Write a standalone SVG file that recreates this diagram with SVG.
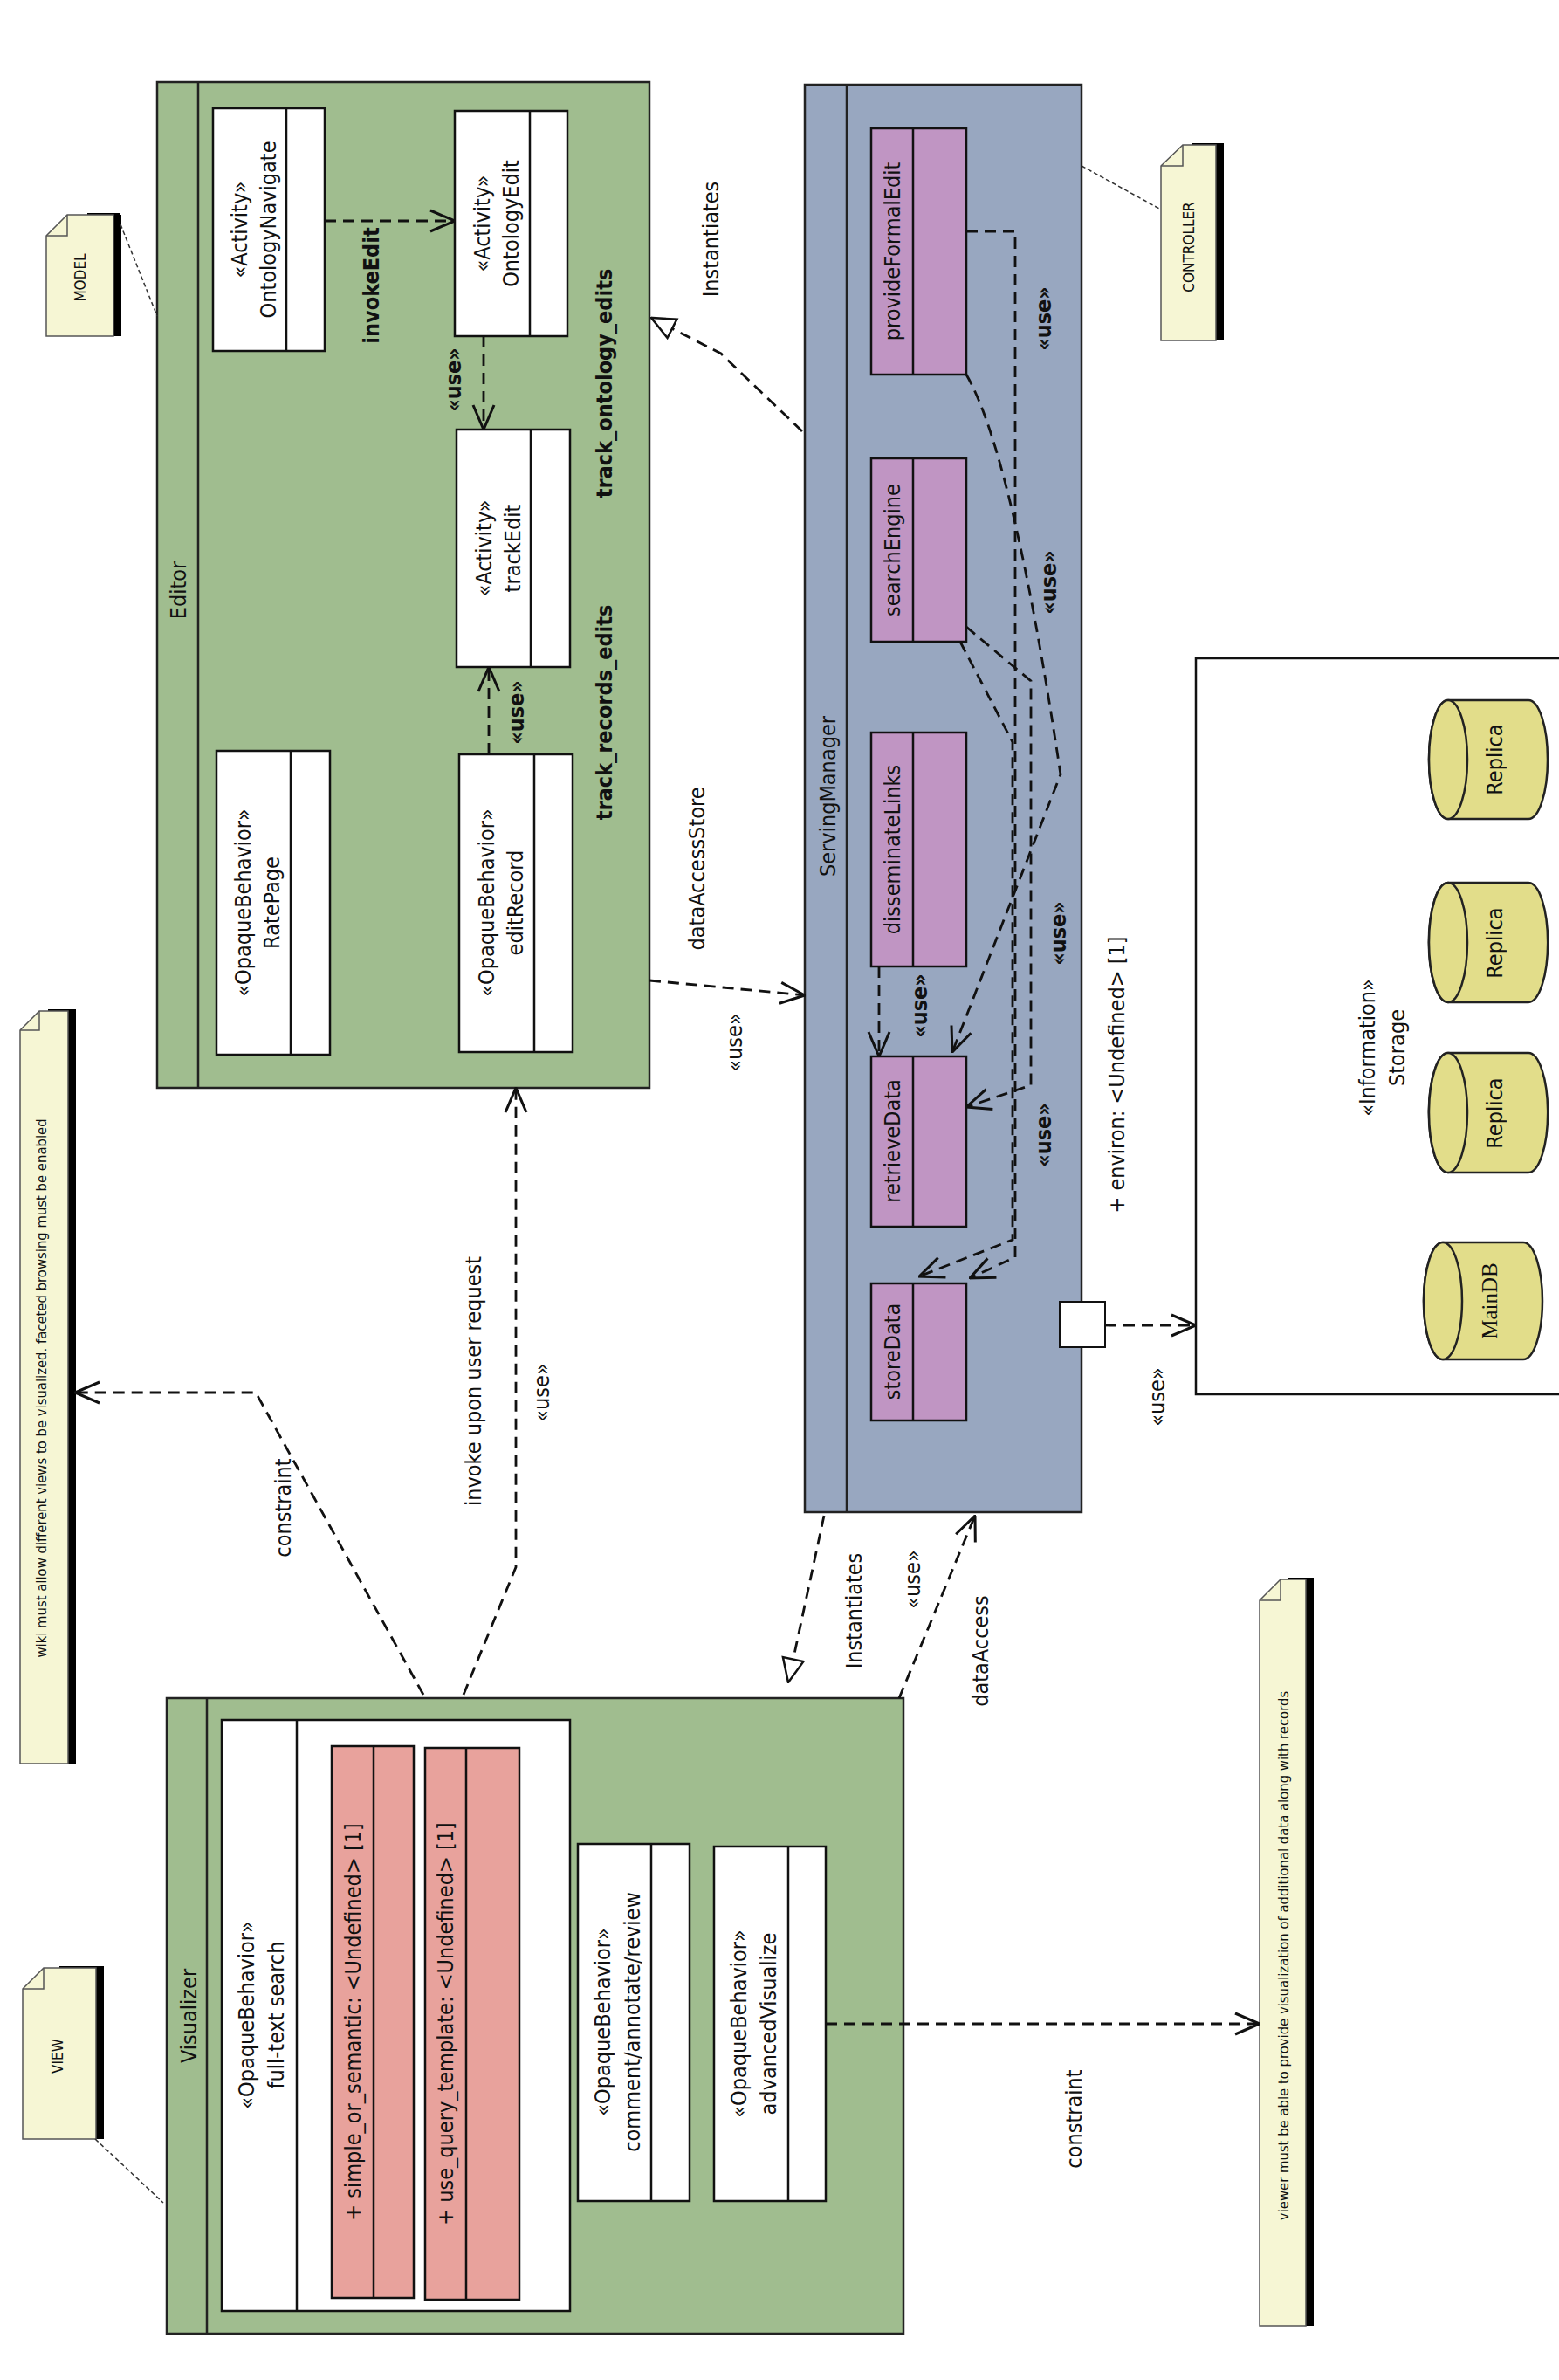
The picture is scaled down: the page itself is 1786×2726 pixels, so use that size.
<svg xmlns="http://www.w3.org/2000/svg" width="1786" height="2726" viewBox="0 0 1786 2726">
<style>
text{font-family:"DejaVu Sans Condensed","DejaVu Sans",sans-serif;font-stretch:condensed;font-size:25px;fill:#111;text-anchor:middle;dominant-baseline:central}
.b{font-weight:bold}
.s{font-size:16.5px}
.m{font-size:17px}
.frame{stroke:#222;stroke-width:2.5}
.box{fill:#fff;stroke:#111;stroke-width:2.5}
.op{fill:#c095c3;stroke:#111;stroke-width:2.5}
.at{fill:#e8a29c;stroke:#111;stroke-width:2.5}
.dash{fill:none;stroke:#111;stroke-width:2.8;stroke-dasharray:13 8}
.ndash{fill:none;stroke:#333;stroke-width:1.5;stroke-dasharray:5 3}
.note{fill:#f6f6d4;stroke:#555;stroke-width:1.5}
.cyl{fill:#e2dd8a;stroke:#222;stroke-width:2.5}
</style>
<defs>
<marker id="a" viewBox="0 0 30 30" refX="29" refY="15" markerWidth="30" markerHeight="30" markerUnits="userSpaceOnUse" orient="auto"><path d="M1,3 L29,15 L1,27" fill="none" stroke="#111" stroke-width="3"/></marker>
<marker id="t" viewBox="0 0 30 30" refX="29" refY="15" markerWidth="30" markerHeight="30" markerUnits="userSpaceOnUse" orient="auto"><path d="M2,3 L29,15 L2,27 Z" fill="#fff" stroke="#111" stroke-width="2.5"/></marker>
</defs>
<rect width="1786" height="2726" fill="#fff"/>

<g id="editor">
<rect x="180" y="94" width="564" height="1152" fill="#a0bd8f" class="frame"/>
<line x1="227" y1="94" x2="227" y2="1246" class="frame"/>
<text transform="translate(204,676) rotate(-90)">Editor</text>
</g>
<g id="ontologyNavigate">
<rect x="244" y="124" width="128" height="278" class="box"/><line x1="328" y1="124" x2="328" y2="402" stroke="#111" stroke-width="2.5"/>
<text transform="translate(274,263) rotate(-90)">«Activity»</text><text transform="translate(307,263) rotate(-90)">OntologyNavigate</text>
</g>
<g id="ontologyEdit">
<rect x="521" y="127" width="129" height="258" class="box"/><line x1="607" y1="127" x2="607" y2="385" stroke="#111" stroke-width="2.5"/>
<text transform="translate(552,256) rotate(-90)">«Activity»</text><text transform="translate(585,256) rotate(-90)">OntologyEdit</text>
</g>
<g id="trackEdit">
<rect x="523" y="492" width="130" height="272" class="box"/><line x1="608" y1="492" x2="608" y2="764" stroke="#111" stroke-width="2.5"/>
<text transform="translate(554,628) rotate(-90)">«Activity»</text><text transform="translate(587,628) rotate(-90)">trackEdit</text>
</g>
<g id="ratePage">
<rect x="248" y="860" width="130" height="348" class="box"/><line x1="333" y1="860" x2="333" y2="1208" stroke="#111" stroke-width="2.5"/>
<text transform="translate(278,1034) rotate(-90)">«OpaqueBehavior»</text><text transform="translate(311,1034) rotate(-90)">RatePage</text>
</g>
<g id="editRecord">
<rect x="526" y="864" width="130" height="341" class="box"/><line x1="612" y1="864" x2="612" y2="1205" stroke="#111" stroke-width="2.5"/>
<text transform="translate(557,1034) rotate(-90)">«OpaqueBehavior»</text><text transform="translate(590,1034) rotate(-90)">editRecord</text>
</g>

<g id="servingManager">
<rect x="922" y="97" width="317" height="1635" fill="#98a7c0" class="frame"/>
<line x1="970" y1="97" x2="970" y2="1732" class="frame"/>
<text transform="translate(948,912) rotate(-90)">ServingManager</text>
</g>
<g id="provideFormalEdit"><rect x="998" y="147" width="109" height="282" class="op"/><line x1="1046" y1="147" x2="1046" y2="429" stroke="#111" stroke-width="2.5"/><text transform="translate(1022,288) rotate(-90)">provideFormalEdit</text></g>
<g id="searchEngine"><rect x="998" y="525" width="109" height="210" class="op"/><line x1="1046" y1="525" x2="1046" y2="735" stroke="#111" stroke-width="2.5"/><text transform="translate(1022,630) rotate(-90)">searchEngine</text></g>
<g id="disseminateLinks"><rect x="998" y="839" width="109" height="268" class="op"/><line x1="1046" y1="839" x2="1046" y2="1107" stroke="#111" stroke-width="2.5"/><text transform="translate(1022,973) rotate(-90)">disseminateLinks</text></g>
<g id="retrieveData"><rect x="998" y="1210" width="109" height="195" class="op"/><line x1="1046" y1="1210" x2="1046" y2="1405" stroke="#111" stroke-width="2.5"/><text transform="translate(1022,1307) rotate(-90)">retrieveData</text></g>
<g id="storeData"><rect x="998" y="1470" width="109" height="157" class="op"/><line x1="1046" y1="1470" x2="1046" y2="1627" stroke="#111" stroke-width="2.5"/><text transform="translate(1022,1548) rotate(-90)">storeData</text></g>
<g id="port"><rect x="1214" y="1491" width="52" height="52" fill="#fff" stroke="#111" stroke-width="2"/></g>

<g id="storage">
<path d="M1786,754 H1370 V1597 H1786" fill="#fff" stroke="#111" stroke-width="2.5"/>
<text transform="translate(1566,1200) rotate(-90)">«Information»</text>
<text transform="translate(1600,1200) rotate(-90)">Storage</text>
</g>
<g id="replica1"><path d="M1659,802 H1751 A22,68 0 0 1 1751,938 H1659 A22,68 0 0 1 1659,802 Z" class="cyl"/><ellipse cx="1659" cy="870" rx="22" ry="68" class="cyl"/><text transform="translate(1712,870) rotate(-90)">Replica</text></g>
<g id="replica2"><path d="M1659,1011 H1751 A22,68 0 0 1 1751,1148 H1659 A22,68 0 0 1 1659,1011 Z" class="cyl"/><ellipse cx="1659" cy="1079.5" rx="22" ry="68.5" class="cyl"/><text transform="translate(1712,1080) rotate(-90)">Replica</text></g>
<g id="replica3"><path d="M1659,1206 H1751 A22,68 0 0 1 1751,1343 H1659 A22,68 0 0 1 1659,1206 Z" class="cyl"/><ellipse cx="1659" cy="1274.5" rx="22" ry="68.5" class="cyl"/><text transform="translate(1712,1275) rotate(-90)">Replica</text></g>
<g id="mainDB"><path d="M1653,1423 H1745 A22,67 0 0 1 1745,1557 H1653 A22,67 0 0 1 1653,1423 Z" class="cyl"/><ellipse cx="1653" cy="1490" rx="22" ry="67" class="cyl"/><text transform="translate(1706,1490) rotate(-90)" style="font-family:'Liberation Serif',serif;font-stretch:normal">MainDB</text></g>

<g id="visualizer">
<rect x="191" y="1945" width="844" height="728" fill="#a0bd8f" class="frame"/>
<line x1="237" y1="1945" x2="237" y2="2673" class="frame"/>
<text transform="translate(216,2309) rotate(-90)">Visualizer</text>
</g>
<g id="fullTextSearch">
<rect x="254" y="1970" width="399" height="677" class="box"/><line x1="340" y1="1970" x2="340" y2="2647" stroke="#111" stroke-width="2.5"/>
<text transform="translate(282,2308) rotate(-90)">«OpaqueBehavior»</text><text transform="translate(316,2308) rotate(-90)">full-text search</text>
<rect x="380" y="2000" width="94" height="632" class="at"/><line x1="428" y1="2000" x2="428" y2="2632" stroke="#111" stroke-width="2.5"/>
<text transform="translate(404,2316) rotate(-90)">+ simple_or_semantic: &lt;Undefined&gt; [1]</text>
<rect x="487" y="2002" width="108" height="632" class="at"/><line x1="534" y1="2002" x2="534" y2="2634" stroke="#111" stroke-width="2.5"/>
<text transform="translate(510,2318) rotate(-90)">+ use_query_template: &lt;Undefined&gt; [1]</text>
</g>
<g id="comment">
<rect x="662" y="2112" width="128" height="409" class="box"/><line x1="746" y1="2112" x2="746" y2="2521" stroke="#111" stroke-width="2.5"/>
<text transform="translate(690,2316) rotate(-90)">«OpaqueBehavior»</text><text transform="translate(724,2316) rotate(-90)">comment/annotate/review</text>
</g>
<g id="advancedVisualize">
<rect x="818" y="2115" width="128" height="406" class="box"/><line x1="903" y1="2115" x2="903" y2="2521" stroke="#111" stroke-width="2.5"/>
<text transform="translate(846,2318) rotate(-90)">«OpaqueBehavior»</text><text transform="translate(880,2318) rotate(-90)">advancedVisualize</text>
</g>

<g id="noteModel"><rect x="130" y="246" width="9" height="139" fill="#000"/><rect x="100" y="244" width="38" height="6" fill="#000"/><path d="M53,270 L77,246 H130 V385 H53 Z" class="note"/><path d="M53,270 H77 V246" fill="none" stroke="#555" stroke-width="1.5"/><text class="m" transform="translate(92,318) rotate(-90)">MODEL</text></g>
<g id="noteController"><rect x="1393" y="166" width="9" height="224" fill="#000"/><rect x="1365" y="164" width="37" height="6" fill="#000"/><path d="M1330,190 L1355,166 H1393 V390 H1330 Z" class="note"/><path d="M1330,190 H1355 V166" fill="none" stroke="#555" stroke-width="1.5"/><text class="m" transform="translate(1362,283) rotate(-90)">CONTROLLER</text></g>
<g id="noteView"><rect x="110" y="2254" width="9" height="196" fill="#000"/><rect x="68" y="2252" width="51" height="6" fill="#000"/><path d="M26,2278 L50,2254 H110 V2450 H26 Z" class="note"/><path d="M26,2278 H50 V2254" fill="none" stroke="#555" stroke-width="1.5"/><text class="m" transform="translate(66,2355) rotate(-90)">VIEW</text></g>
<g id="noteWiki"><rect x="78" y="1158" width="9" height="862" fill="#000"/><rect x="55" y="1156" width="32" height="6" fill="#000"/><path d="M23,1180 L45,1158 H78 V2020 H23 Z" class="note"/><path d="M23,1180 H45 V1158" fill="none" stroke="#555" stroke-width="1.5"/><text class="s" transform="translate(47,1590) rotate(-90)">wiki must allow different views to be visualized. faceted browsing must be enabled</text></g>
<g id="noteViewer"><rect x="1496" y="1809" width="9" height="855" fill="#000"/><rect x="1475" y="1807" width="30" height="6" fill="#000"/><path d="M1443,1833 L1467,1809 H1496 V2664 H1443 Z" class="note"/><path d="M1443,1833 H1467 V1809" fill="none" stroke="#555" stroke-width="1.5"/><text class="s" transform="translate(1470,2240) rotate(-90)">viewer must be able to provide visualization of additional data along with records</text></g>

<g id="connectors">
<path d="M372,253 H521" class="dash" marker-end="url(#a)"/>
<path d="M554,385 V492" class="dash" marker-end="url(#a)"/>
<path d="M560,864 V764" class="dash" marker-end="url(#a)"/>
<path d="M919,494 L826,405 L746,364" class="dash" marker-end="url(#t)"/>
<path d="M744,1123 L922,1140" class="dash" marker-end="url(#a)"/>
<path d="M944,1736 L903,1927" class="dash" marker-end="url(#t)"/>
<path d="M1030,1945 L1117,1736" class="dash" marker-end="url(#a)"/>
<path d="M485,1941 L293,1595 H86" class="dash" marker-end="url(#a)"/>
<path d="M531,1941 L591,1795 V1246" class="dash" marker-end="url(#a)"/>
<path d="M946,2318 H1443" class="dash" marker-end="url(#a)"/>
<path d="M1266,1518 H1370" class="dash" marker-end="url(#a)"/>
<path d="M1007,1107 V1210" class="dash" marker-end="url(#a)"/>
<path d="M1107,265 H1163 V1440 L1111,1464" class="dash" marker-end="url(#a)"/>
<path d="M1107,429 Q1160,520 1215,887 L1091,1205" class="dash" marker-end="url(#a)"/>
<path d="M1107,718 L1181,780 V1243 L1107,1268" class="dash" marker-end="url(#a)"/>
<path d="M1100,735 L1160,850 V1420 L1053,1462" class="dash" marker-end="url(#a)"/>
<path d="M138,257 L180,362" class="ndash"/>
<path d="M1239,190 L1330,240" class="ndash"/>
<path d="M109,2450 L187,2523" class="ndash"/>
</g>
<g id="labels">
<text class="b" transform="translate(425,327) rotate(-90)">invokeEdit</text>
<text class="b" transform="translate(519,435) rotate(-90)">«use»</text>
<text class="b" transform="translate(591,816) rotate(-90)">«use»</text>
<text class="b" transform="translate(692,439) rotate(-90)">track_ontology_edits</text>
<text class="b" transform="translate(692,816) rotate(-90)">track_records_edits</text>
<text transform="translate(814,274) rotate(-90)">Instantiates</text>
<text transform="translate(798,995) rotate(-90)">dataAccessStore</text>
<text transform="translate(841,1194) rotate(-90)">«use»</text>
<text class="b" transform="translate(1195,365) rotate(-90)">«use»</text>
<text class="b" transform="translate(1201,667) rotate(-90)">«use»</text>
<text class="b" transform="translate(1212,1069) rotate(-90)">«use»</text>
<text class="b" transform="translate(1053,1152) rotate(-90)">«use»</text>
<text class="b" transform="translate(1195,1300) rotate(-90)">«use»</text>
<text transform="translate(1279,1231) rotate(-90)">+ environ: &lt;Undefined&gt; [1]</text>
<text transform="translate(1325,1600) rotate(-90)">«use»</text>
<text transform="translate(978,1845) rotate(-90)">Instantiates</text>
<text transform="translate(1045,1809) rotate(-90)">«use»</text>
<text transform="translate(1123,1891) rotate(-90)">dataAccess</text>
<text transform="translate(1230,2427) rotate(-90)">constraint</text>
<text transform="translate(324,1727) rotate(-90)">constraint</text>
<text transform="translate(542,1582) rotate(-90)">invoke upon user request</text>
<text transform="translate(620,1595) rotate(-90)">«use»</text>
</g>
</svg>
